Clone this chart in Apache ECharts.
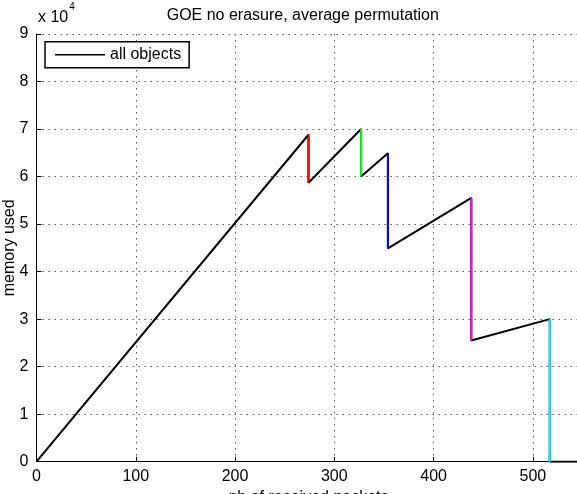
<!DOCTYPE html>
<html>
<head>
<meta charset="utf-8">
<script src="https://cdn.jsdelivr.net/npm/echarts@6/dist/echarts.min.js"></script>
<style>
  html, body { margin: 0; padding: 0; background: #fff; }
  #chart { width: 577px; height: 494px; }
</style>
</head>
<body>
<div id="chart"></div>
<script>
// path of the memory curve (nb of received packets, memory used)
const packets = [0, 274, 274, 327, 327, 354, 354, 438, 438, 517, 517, 548];
const memory = [0, 68800, 58700, 70000, 60000, 64900, 44900, 55500, 25500, 30000, 0, 0];

// the drops, drawn again in colour on top of the black path
const dropX = [274, 327, 354, 438, 517];
const dropTop = [68800, 70000, 64900, 55500, 30000];
const dropBottom = [58700, 60000, 44900, 25500, 0];
const dropColors = ['#ff0000', '#00ff00', '#0000ff', '#ff00ff', '#00ffff'];

const yTicks = [0, 1, 2, 3, 4, 5, 6, 7, 8, 9];

const font = 'Liberation Sans, Arial, Helvetica, sans-serif';
const gridLine = { show: true, lineStyle: { color: '#555', width: 1, type: [1.5, 4.5] } };

const chart = echarts.init(document.getElementById('chart'));

const series = [{
    name: 'all objects',
    type: 'line',
    data: packets.map((p, i) => [p, memory[i]]),
    symbol: 'none',
    lineStyle: { color: '#000', width: 2 },
    itemStyle: { color: '#000' },
    animation: false,
    z: 3
}];
for (let i = 0; i < dropX.length; i++) {
    series.push({
        name: 'drop' + i,
        type: 'line',
        data: [[dropX[i], dropTop[i]], [dropX[i], dropBottom[i]]],
        symbol: 'none',
        lineStyle: { color: dropColors[i], width: 2 },
        animation: false,
        z: 4
    });
}

chart.setOption({
    animation: false,
    backgroundColor: '#fff',
    textStyle: { fontFamily: font },
    grid: { left: 36.5, right: -3.5, top: 34, bottom: 32.3, containLabel: false, outerBoundsMode: 'none' },
    graphic: [
        {
            type: 'text', left: 308.7 - 142, top: 8,
            style: { text: 'GOE no erasure, average permutation', font: '16px ' + font, fill: '#000' }
        },
        {
            type: 'text', left: 38, top: 2,
            style: {
                text: '{a|x 10}{b|4}',
                rich: {
                    a: { fontSize: 16, fontFamily: font, color: '#000', padding: [8, 0, 0, 0] },
                    b: { fontSize: 10, fontFamily: font, color: '#000', verticalAlign: 'top', padding: [0, 0, 0, 1] }
                }
            }
        }
    ],
    legend: {
        data: [{ name: 'all objects', icon: 'rect' }],
        left: 45, top: 41.7,
        itemWidth: 50, itemHeight: 1.5,
        padding: [5, 8, 5, 10],
        borderColor: '#000', borderWidth: 1.5, backgroundColor: '#fff',
        textStyle: { fontSize: 16, fontFamily: font, color: '#000' },
        itemStyle: { color: '#000' }
    },
    xAxis: {
        type: 'value', min: 0, max: 548, interval: 100,
        name: 'nb of received packets', nameLocation: 'middle', nameGap: 28,
        nameMoveOverlap: false,
        nameTextStyle: { fontSize: 16, fontFamily: font, color: '#000' },
        axisLine: { show: true, onZero: false, lineStyle: { color: '#000', width: 1 } },
        axisTick: { show: true, inside: true, length: 5, lineStyle: { color: '#000' } },
        axisLabel: { fontSize: 16, color: '#000', margin: 7, showMaxLabel: false },
        splitLine: gridLine
    },
    yAxis: {
        type: 'value', min: 0, max: 90000, interval: 10000,
        name: 'memory used', nameLocation: 'middle', nameGap: 19,
        nameMoveOverlap: false,
        nameTextStyle: { fontSize: 16, fontFamily: font, color: '#000' },
        axisLine: { show: true, lineStyle: { color: '#000', width: 1 } },
        axisTick: { show: true, inside: true, length: 5, lineStyle: { color: '#000' } },
        axisLabel: {
            fontSize: 16, color: '#000', margin: 8,
            formatter: v => String(yTicks[Math.round(v / 10000)])
        },
        splitLine: gridLine
    },
    series: series
});
</script>
</body>
</html>
